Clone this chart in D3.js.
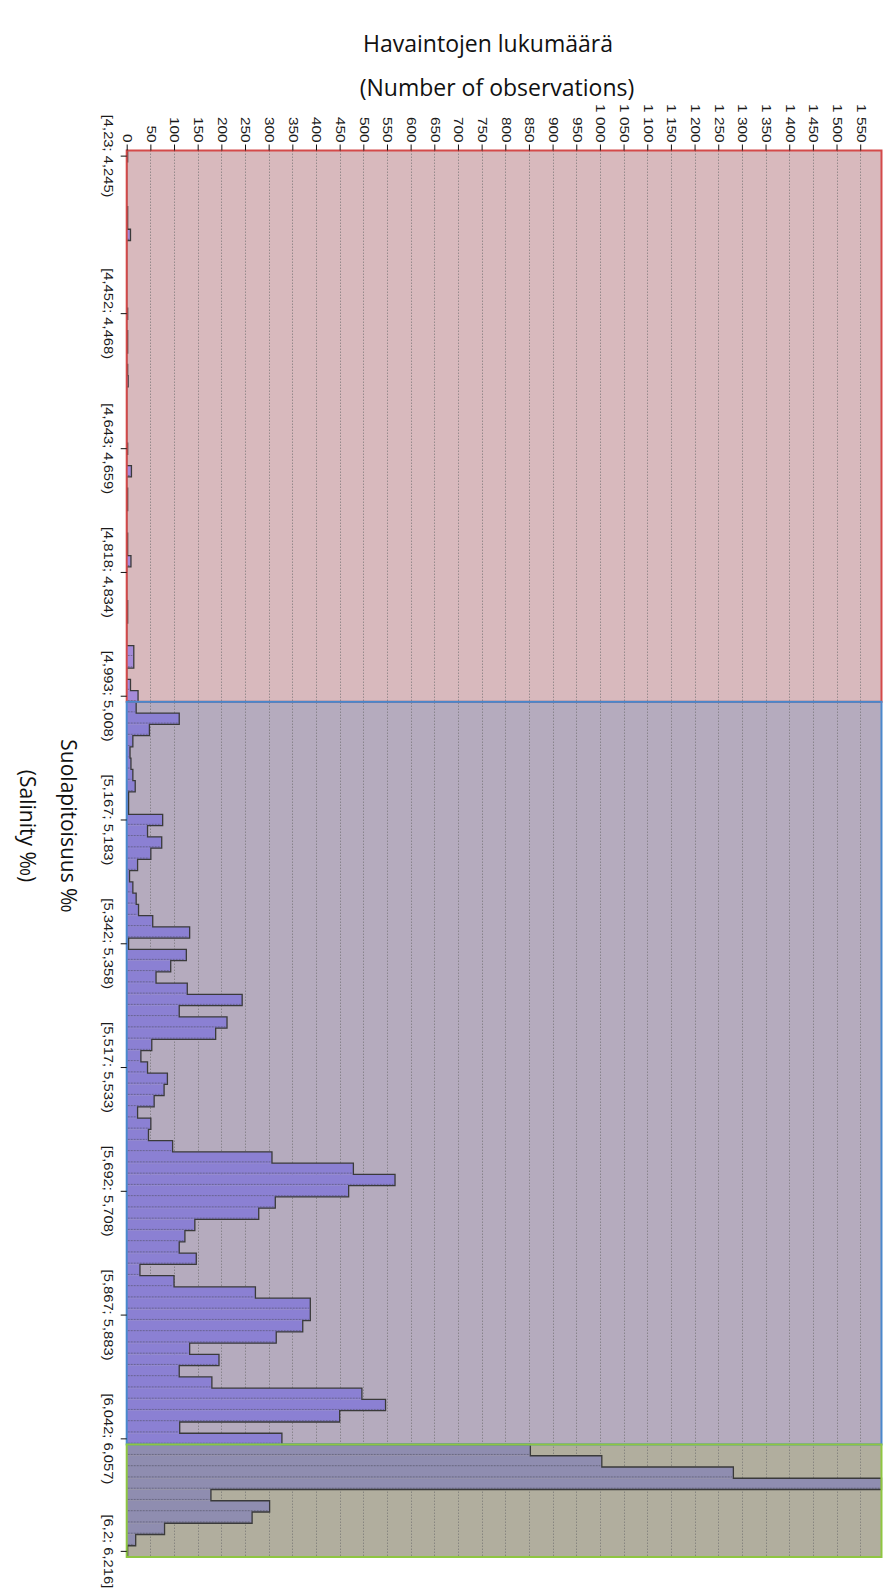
<!DOCTYPE html>
<html><head><meta charset="utf-8">
<script src="https://cdn.jsdelivr.net/npm/d3@7"></script>
<style>body{margin:0;background:#fff}svg{display:block}</style>
</head><body>
<svg id="c" width="883" height="1589"></svg>
<script>
// Histogram of salinity bins (125 bins, 4.23 .. 6.216)
const counts = [
  2,0,0,0,0,2,2,8,0,0,
  0,0,0,0,2,0,2,2,0,2,
  3,0,0,0,0,0,2,0,10,0,
  2,2,0,0,2,2,9,0,0,0,
  2,2,0,0,15,15,0,8,24,20,
  111,48,13,7,9,13,18,4,4,76,
  44,74,51,23,6,13,20,25,55,133,
  4,126,93,62,128,244,111,212,188,53,
  30,44,86,79,58,23,51,46,97,307,
  479,567,469,314,279,144,123,111,147,28,
  100,272,388,388,372,316,133,195,111,180,
  497,547,450,112,328,853,1004,1282,1595,178,
  302,265,80,19,2
];
const binIndex = d3.range(counts.length);
const tickBins = [0,14,26,37,48,59,70,81,92,103,114,124];
const tickLabels = ["[4,23; 4,245)","[4,452; 4,468)","[4,643; 4,659)","[4,818; 4,834)",
  "[4,993; 5,008)","[5,167; 5,183)","[5,342; 5,358)","[5,517; 5,533)",
  "[5,692; 5,708)","[5,867; 5,883)","[6,042; 6,057)","[6,2; 6,216]"];
const valueTicks = [0,50,100,150,200,250,300,350,400,450,500,550,600,650,700,750,
  800,850,900,950,1000,1050,1100,1150,1200,1250,1300,1350,1400,1450,1500,1550];
const valueMax = 1595;
const regionNames = ["low","mid","high"];
const regionFirst = [0,49,115];
const regionLast = [48,114,124];
const titleTop = ["Havaintojen lukumäärä","(Number of observations)"];
const titleLeft = ["Suolapitoisuus ‰","(Salinity ‰)"];

const style = {
  low:  {bg:"#d8b9bd", border:"#d44a4a", bar:"#a58bd9"},
  mid:  {bg:"#b5abbe", border:"#4a88cc", bar:"#8b80d3"},
  high: {bg:"#b1ae9e", border:"#8ec641", bar:"#8f8db0"}
};

const svg = d3.select("#c");
const x = d3.scaleLinear().domain([0, valueMax]).range([126.7, 881.5]);
const y = d3.scaleBand().domain(binIndex).range([150.5, 1557]).padding(0);
const bw = y.bandwidth();
const regionOf = i => regionNames[regionFirst.findIndex((f,k)=> i>=f && i<=regionLast[k])];

// region backgrounds
svg.append("g").selectAll("rect").data(regionNames).join("rect")
  .attr("x", x(0)).attr("width", x(valueMax)-x(0))
  .attr("y", (d,k)=>y(regionFirst[k]))
  .attr("height", (d,k)=>y(regionLast[k])+bw-y(regionFirst[k]))
  .attr("fill", d=>style[d].bg);

// gridlines
svg.append("g").selectAll("line").data(valueTicks.filter(v=>v>0)).join("line")
  .attr("x1", d=>Math.round(x(d))+0.5).attr("x2", d=>Math.round(x(d))+0.5)
  .attr("y1", y.range()[0]).attr("y2", y.range()[1])
  .attr("stroke","#6a6a6a").attr("stroke-opacity",0.6)
  .attr("stroke-dasharray","1.5,1.5").attr("stroke-width",1);

// bars
svg.append("g").selectAll("rect").data(binIndex).join("rect")
  .attr("x", x(0)).attr("y", d=>y(d))
  .attr("width", d=>x(counts[d])-x(0)).attr("height", bw)
  .attr("fill", d=>style[regionOf(d)].bar);

// dotted lines inside bars
svg.append("g").selectAll("line").data(binIndex.filter(d=>counts[d]>6)).join("line")
  .attr("x1", x(0)+1).attr("x2", d=>x(counts[d])-1.5)
  .attr("y1", d=>y(d)+bw-1.3).attr("y2", d=>y(d)+bw-1.3)
  .attr("stroke","#4a4a5a").attr("stroke-opacity",0.6)
  .attr("stroke-dasharray","2,1").attr("stroke-width",0.9);

// step outline
const p = d3.path();
p.moveTo(x(0), y(0));
binIndex.forEach(i=>{
  p.lineTo(x(counts[i]), y(i));
  p.lineTo(x(counts[i]), y(i)+bw);
});
p.lineTo(x(0), y(counts.length-1)+bw);
svg.append("path").attr("d", p.toString()).attr("fill","none")
  .attr("stroke","#3a3a3a").attr("stroke-width",1.3);

// region borders
svg.append("g").selectAll("rect").data(regionNames).join("rect")
  .attr("x", x(0)).attr("width", x(valueMax)-x(0))
  .attr("y", (d,k)=>y(regionFirst[k]))
  .attr("height", (d,k)=>y(regionLast[k])+bw-y(regionFirst[k]))
  .attr("fill","none").attr("stroke", d=>style[d].border).attr("stroke-width",2);

// value axis (top)
const loc = d3.formatLocale({decimal:",", thousands:"\u00a0", grouping:[3], currency:["",""]});
const fmt = loc.format(",");
const gx = svg.append("g").attr("transform",`translate(0,${y.range()[0]})`)
  .call(d3.axisTop(x).tickValues(valueTicks).tickSize(6).tickFormat(fmt));
gx.select(".domain").remove();
gx.selectAll(".tick line").attr("stroke","#111");
gx.selectAll(".tick text")
  .attr("x",0).attr("y",0).attr("dy","0.35em")
  .attr("text-anchor","end")
  .attr("transform","translate(0,-8) rotate(90) scale(1.28,1)")
  .attr("font-family","Liberation Sans, Arial, sans-serif").attr("font-size",12)
  .attr("fill","#1a1a1a");

// category axis (left)
const gy = svg.append("g").attr("transform",`translate(${x(0)},0)`)
  .call(d3.axisLeft(y).tickValues(tickBins).tickSize(6)
    .tickFormat(d=>tickLabels[tickBins.indexOf(d)]));
gy.select(".domain").remove();
gy.selectAll(".tick line").attr("stroke","#111");
gy.selectAll(".tick text")
  .attr("x",0).attr("y",0).attr("dy","0.35em")
  .attr("text-anchor","middle")
  .attr("transform","translate(-18.5,0) rotate(90) scale(1.18,1)")
  .attr("font-family","Liberation Sans, Arial, sans-serif").attr("font-size",12.5)
  .attr("fill","#1a1a1a");

// titles
const topX = [488, 497];
svg.append("g").selectAll("text").data(titleTop).join("text")
  .attr("x", (d,i)=>topX[i]).attr("y",(d,i)=>52+i*44)
  .attr("text-anchor","middle")
  .attr("font-family","Open Sans, sans-serif").attr("font-size",23)
  .attr("fill","#111").text(d=>d);
svg.append("g").selectAll("text").data(titleLeft).join("text")
  .attr("transform",(d,i)=>`translate(${61-i*41},826) rotate(90)`)
  .attr("text-anchor","middle")
  .attr("font-family","Open Sans, sans-serif").attr("font-size",21)
  .attr("fill","#111").text(d=>d);
</script>
</body></html>
